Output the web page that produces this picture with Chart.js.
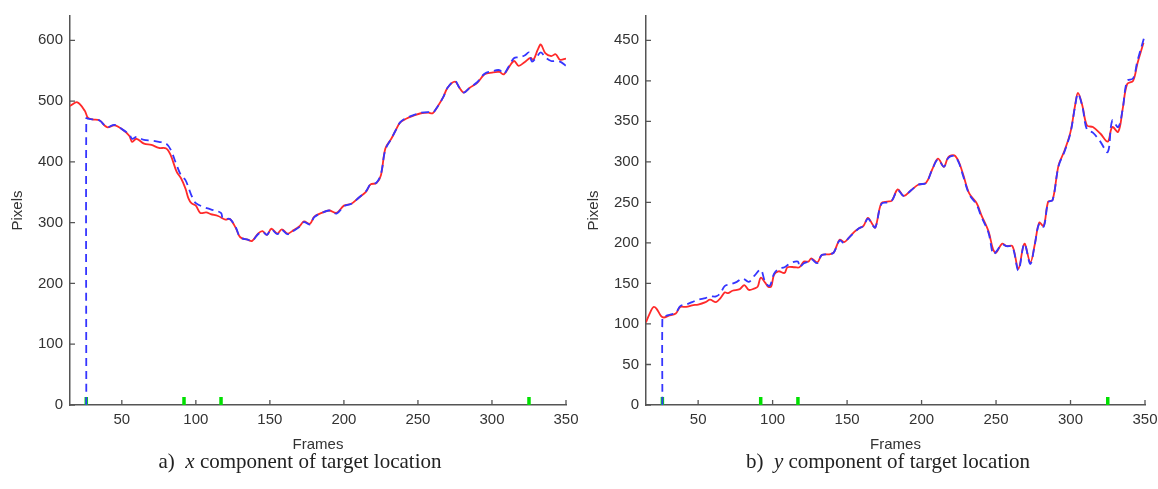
<!DOCTYPE html>
<html>
<head>
<meta charset="utf-8">
<script src="https://cdn.jsdelivr.net/npm/chart.js@4.4.1/dist/chart.umd.min.js"></script>
<style>
  html, body { margin: 0; padding: 0; background: #fff; }
  #wrap { position: relative; width: 1158px; height: 489px; overflow: hidden; }
  .box { position: absolute; top: 0; height: 489px; }
  .caption {
    position: absolute; top: 449px; width: 400px; text-align: center;
    font-family: "Liberation Serif", "Times New Roman", serif;
    font-size: 21px; color: #222; white-space: nowrap;
  }
</style>
</head>
<body>
<div id="wrap">
  <div class="box" style="left:0; width:580px;"><canvas id="chartX"></canvas></div>
  <div class="box" style="left:576px; width:582px;"><canvas id="chartY"></canvas></div>
  <div class="caption" style="left:100px;">a)&nbsp; <i>x</i> component of target location</div>
  <div class="caption" style="left:688px;">b)&nbsp; <i>y</i> component of target location</div>
</div>
<script>
// x component - red (solid) track
const framesX = [15,20,25,27,30,35,40,45,50,55,57,60,65,70,75,80,83,87,90,93,95,97,100,103,107,110,115,120,123,127,130,135,138,142,145,148,151,155,158,162,165,170,173,177,180,185,190,195,200,205,210,215,218,222,225,228,232,235,238,242,247,252,257,260,263,267,270,275,278,281,285,290,295,300,305,308,312,315,318,322,326,328,331,333,336,340,343,346,350];
const redX = [492,498,484,473,470,468,457,460,454,443,433,438,430,428,423,422,411,384,373,356,340,332,328,316,317,314,311,305,306,291,276,272,270,282,286,280,290,282,289,282,286,294,302,298,310,316,320,316,328,331,341,351,363,365,378,422,438,452,465,471,476,480,481,480,490,506,522,532,522,514,522,530,544,547,548,544,558,566,558,564,571,568,585,593,579,574,577,568,570];

// x component - blue (dashed) track
const blueFramesX = [26,26,27,30,35,40,45,50,55,57,60,65,70,75,80,83,87,90,93,95,97,100,105,110,117,118,120,123,127,130,135,138,142,145,148,151,155,158,162,165,170,173,177,180,185,190,195,200,205,210,215,218,222,225,228,232,235,238,242,247,252,257,260,263,267,270,275,278,281,285,290,295,300,305,308,312,315,318,322,325,327,330,333,336,340,343,346,350];
const blueX = [0,472,471,470,468,457,461,454,445,438,441,436,435,433,430,420,395,378,370,358,345,332,326,322,316,308,306,306,292,276,272,270,281,285,280,289,281,288,281,285,293,301,297,309,316,320,315,327,331,341,352,363,366,380,420,438,452,465,472,477,481,482,481,490,506,522,533,522,514,522,531,545,549,551,545,560,571,572,575,580,565,572,580,572,566,566,565,558];

// y component - red (solid) track
const framesY = [15,18,20,22,25,27,30,35,38,42,46,50,55,58,62,65,68,70,73,78,81,84,88,90,92,95,97,99,101,104,108,110,115,118,121,124,126,130,133,138,141,145,148,151,155,158,161,164,167,169,173,177,180,184,188,193,198,203,207,211,215,218,222,225,228,232,237,240,245,248,250,254,257,261,265,269,273,276,279,282,285,288,292,296,300,303,305,308,311,315,320,325,328,332,335,338,342,345,349];
const redY = [102,115,121,119,110,108,110,113,121,121,123,124,127,130,127,132,139,138,141,143,148,142,144,146,157,151,146,146,161,165,163,170,170,170,177,177,181,176,185,186,188,204,201,206,214,218,221,231,223,219,249,251,252,266,258,265,272,274,290,304,294,306,308,300,284,261,249,235,214,192,188,199,196,196,168,199,176,198,225,221,251,253,296,314,337,369,385,369,345,343,335,325,343,337,365,396,400,422,447];

// y component - blue (dashed) track
const blueFramesY = [26,26,27,30,35,38,42,46,50,55,58,62,65,68,72,76,80,84,88,92,95,98,101,104,108,112,117,118,121,124,126,130,133,138,141,145,148,151,155,158,161,164,167,169,173,177,180,184,188,193,198,203,207,211,215,218,222,225,228,232,237,240,245,248,250,254,257,261,265,269,273,276,279,282,285,288,292,296,300,303,305,308,311,315,320,325,328,332,335,338,342,345,350];
const blueY = [0,108,109,111,114,122,124,127,130,132,134,134,138,147,149,152,156,152,160,167,152,147,162,168,170,175,177,170,175,177,180,175,185,186,188,203,200,206,213,218,221,230,222,219,248,250,252,265,258,265,272,274,290,303,294,305,307,299,282,260,247,233,212,186,189,198,196,195,166,199,174,198,224,220,250,253,295,313,336,368,384,368,340,336,325,312,351,343,365,400,403,425,457];

// green frame markers along the bottom
const markFrames = [26, 92, 117, 325];

const frameTicks = [50, 100, 150, 200, 250, 300, 350];

function toPoints(xs, ys) {
  return xs.map((x, i) => ({ x: x, y: ys[i] }));
}

function markPoints(frames, h) {
  const pts = [];
  frames.forEach(f => {
    pts.push({ x: f, y: 0 }, { x: f, y: h }, { x: f, y: null });
  });
  return pts;
}

// short tick marks pointing into the plot, like the original
const inwardTicks = {
  id: "inwardTicks",
  afterDraw(chart) {
    const { ctx, chartArea: a, scales } = chart;
    ctx.save();
    ctx.strokeStyle = "#555";
    ctx.lineWidth = 1.3;
    ctx.beginPath();
    scales.x.ticks.forEach(t => {
      const px = scales.x.getPixelForValue(t.value);
      ctx.moveTo(px, a.bottom);
      ctx.lineTo(px, a.bottom - 5);
    });
    scales.y.ticks.forEach(t => {
      const py = scales.y.getPixelForValue(t.value);
      ctx.moveTo(a.left, py);
      ctx.lineTo(a.left + 5, py);
    });
    ctx.stroke();
    ctx.restore();
  }
};

const tickFont = { family: "Liberation Sans, Arial, sans-serif", size: 15 };

function makeChart(id, frames, red, blueFrames, blue, yMax, yStep, markH, padRight) {
  const ctx = document.getElementById(id).getContext("2d");
  return new Chart(ctx, {
    type: "line",
    data: {
      datasets: [
        {
          data: toPoints(blueFrames, blue),
          borderColor: "#3535ff",
          borderWidth: 1.8,
          borderDash: [8, 5],
          pointRadius: 0,
          tension: 0.35,
          fill: false
        },
        {
          data: toPoints(frames, red),
          borderColor: "#ff2a2a",
          borderWidth: 1.8,
          pointRadius: 0,
          tension: 0.35,
          fill: false
        },
        {
          data: markPoints(markFrames, markH),
          borderColor: "#00e000",
          borderWidth: 3.5,
          pointRadius: 0,
          spanGaps: false,
          clip: false
        }
      ]
    },
    options: {
      responsive: true,
      maintainAspectRatio: false,
      animation: false,
      layout: { padding: { top: 13, right: padRight, bottom: 35, left: 0 } },
      plugins: { legend: { display: false }, tooltip: { enabled: false } },
      scales: {
        x: {
          type: "linear",
          min: 15,
          max: 350,
          afterBuildTicks: s => { s.ticks = frameTicks.map(v => ({ value: v })); },
          afterFit: s => { s.height = 49; s.paddingLeft = 0; s.paddingRight = 0; },
          grid: { display: false, drawTicks: false },
          border: { display: true, color: "#555", width: 1.5 },
          ticks: { color: "#333", padding: 6, maxRotation: 0, font: tickFont },
          title: {
            display: true, text: "Frames", color: "#333", padding: { top: 2, bottom: 0 },
            font: tickFont
          }
        },
        y: {
          min: 0,
          max: yMax,
          afterBuildTicks: s => { s.ticks = s.ticks.filter(t => t.value % yStep === 0); },
          afterFit: s => { s.width = 70; },
          grid: { display: false, drawTicks: false },
          border: { display: true, color: "#555", width: 1.5 },
          ticks: { stepSize: yStep, color: "#333", padding: 7, font: tickFont },
          title: {
            display: true, text: "Pixels", color: "#333", padding: { top: 9, bottom: 0 },
            font: tickFont
          }
        }
      }
    },
    plugins: [inwardTicks]
  });
}

makeChart("chartX", framesX, redX, blueFramesX, blueX, 640, 100, 13, 14);
makeChart("chartY", framesY, redY, blueFramesY, blueY, 480, 50, 10, 13);
</script>
</body>
</html>
